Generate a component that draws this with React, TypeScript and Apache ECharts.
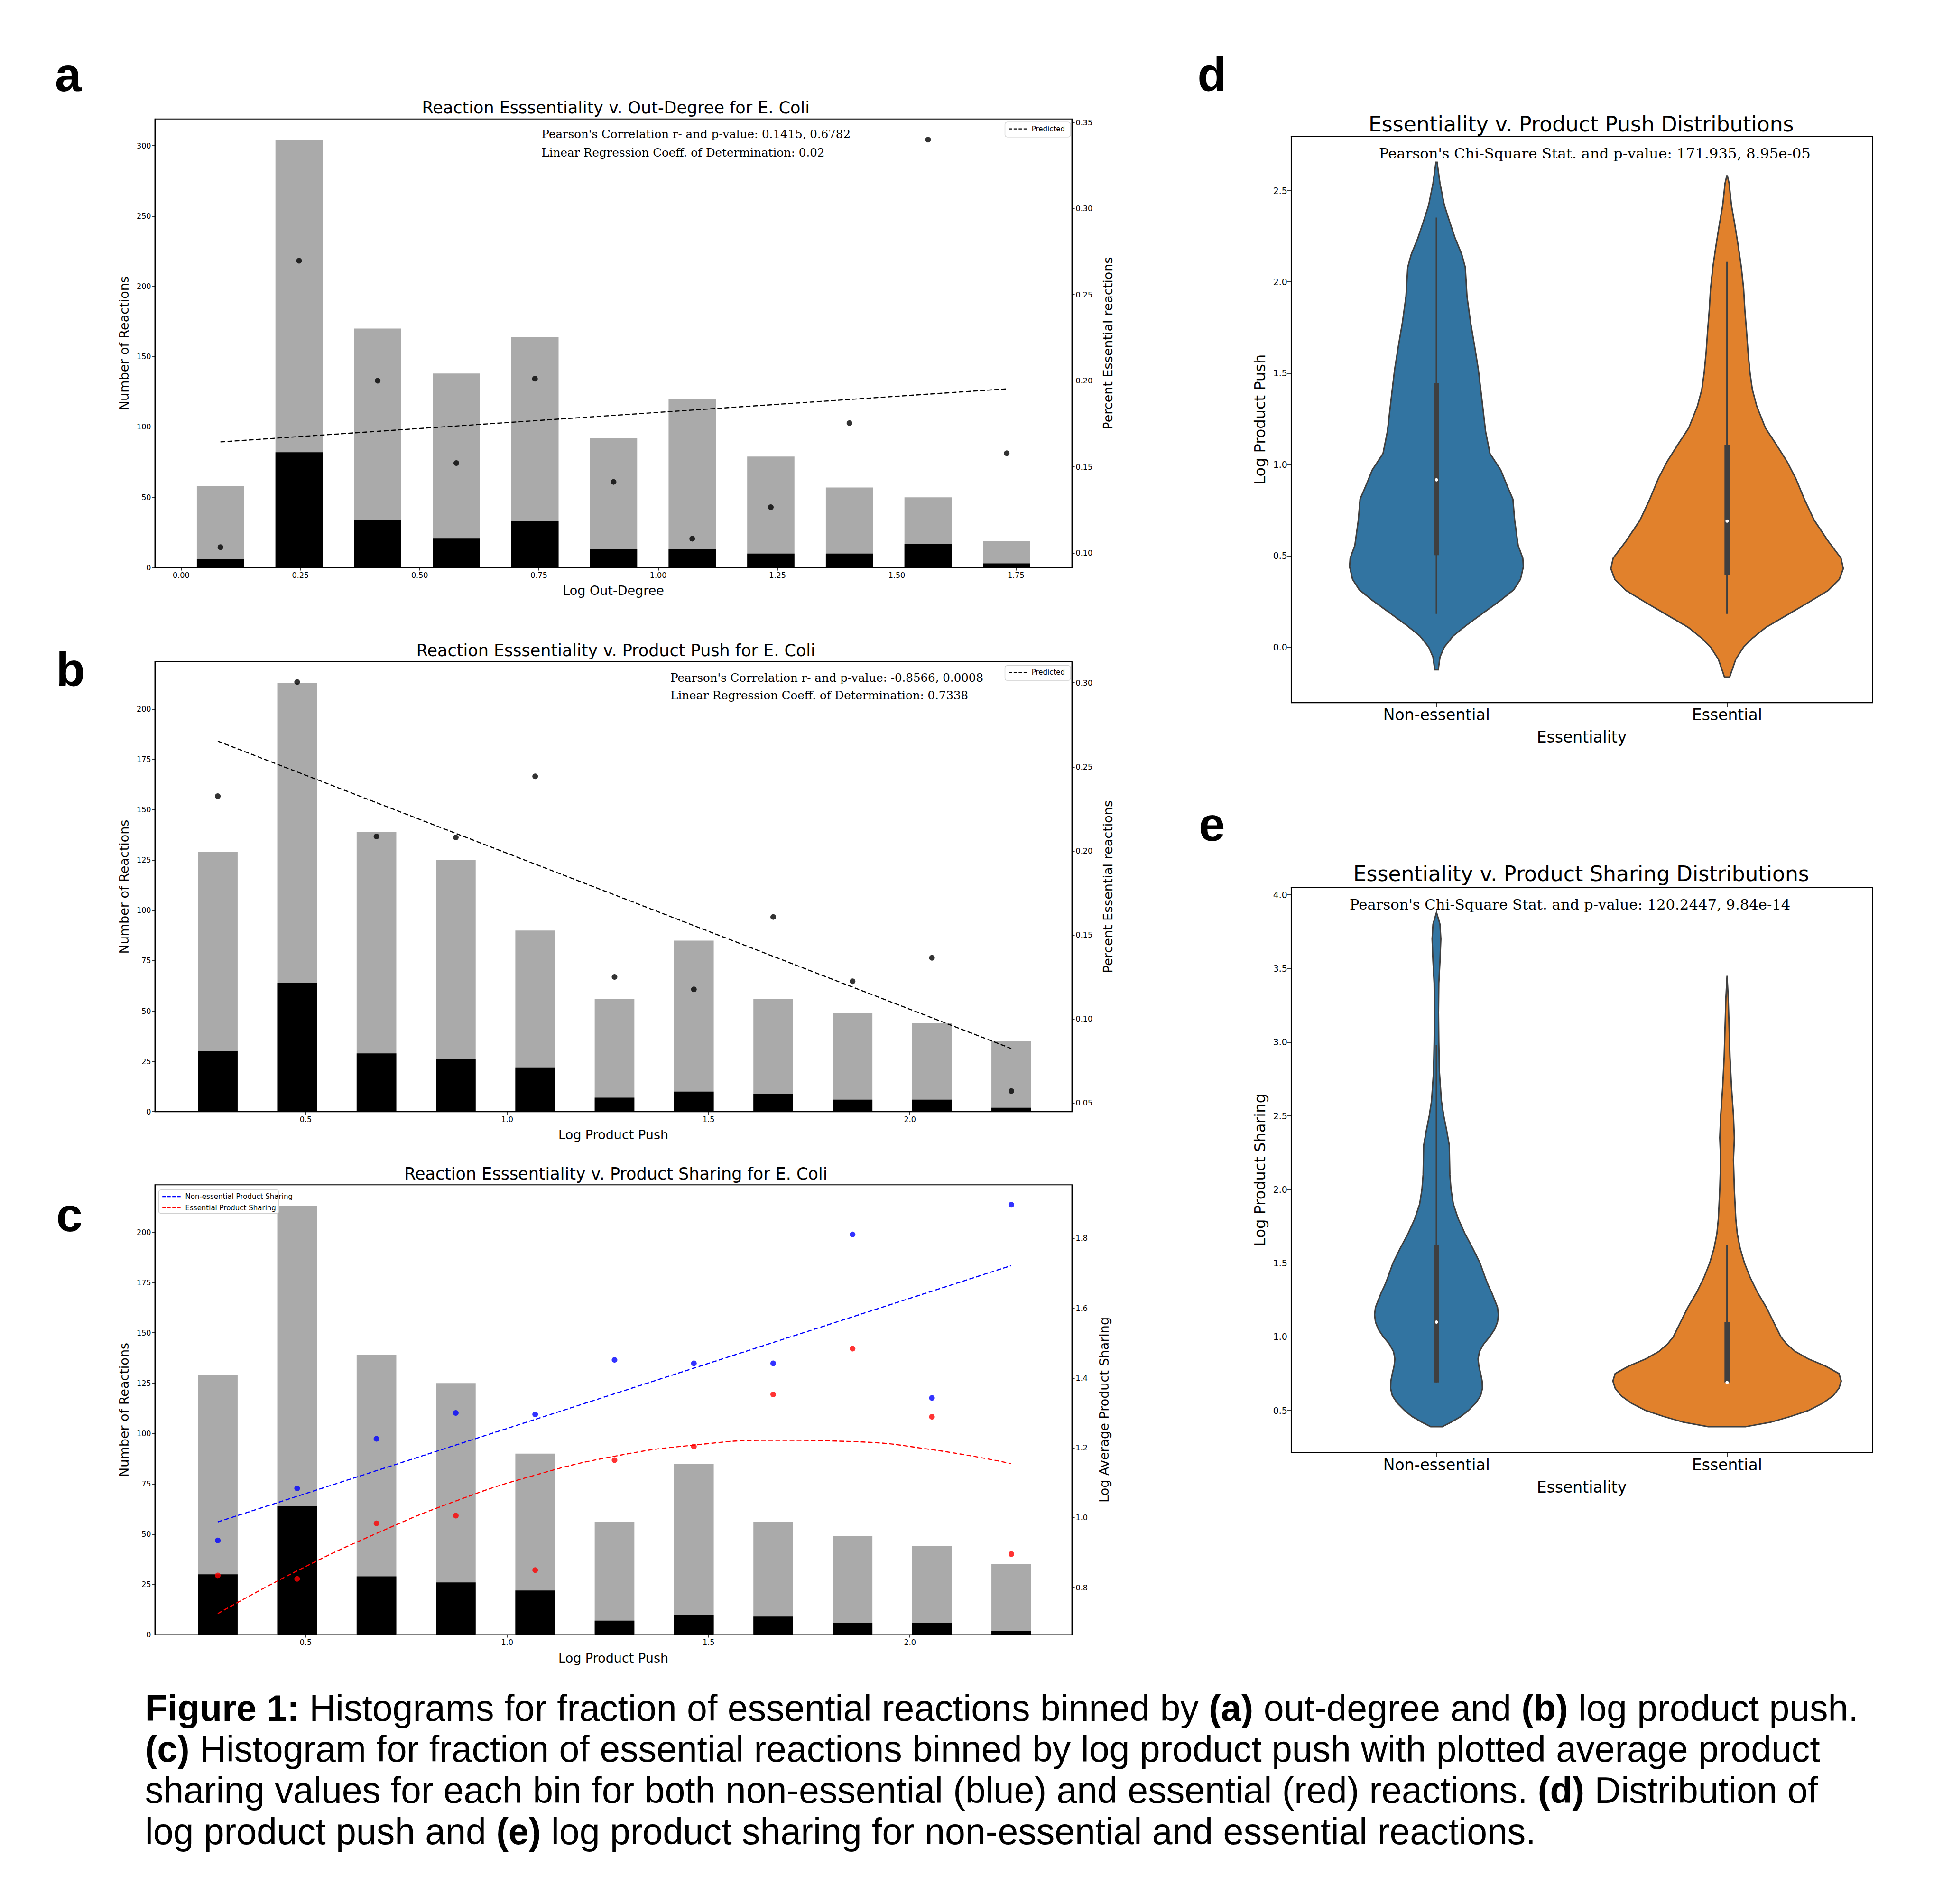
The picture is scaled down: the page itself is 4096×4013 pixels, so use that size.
import React, { useEffect, useRef } from "react";
import * as echarts from "echarts";

const K = 4096 / 1568;
const S = (v: number) => v * K;

// ---------- Panel a ----------
const aBinCenters = [0.0824, 0.2472, 0.412, 0.5768, 0.7416, 0.9064, 1.0712, 1.236, 1.4008, 1.5656, 1.7304];
const aTotal = [58, 304, 170, 138, 164, 92, 120, 79, 57, 50, 19];
const aEssential = [6, 82, 34, 21, 33, 13, 13, 10, 10, 17, 3];
const aFraction = [0.1034, 0.2697, 0.2, 0.1522, 0.2012, 0.1413, 0.1083, 0.1266, 0.1754, 0.34, 0.1579];
const aPredicted = [[0.0824, 0.1645], [1.7304, 0.1953]];
const aXTicks = [0, 0.25, 0.5, 0.75, 1.0, 1.25, 1.5, 1.75];
const aYTicks = [0, 50, 100, 150, 200, 250, 300];
const aRTicks = [0.1, 0.15, 0.2, 0.25, 0.3, 0.35];

// ---------- Panels b / c ----------
const bBinCenters = [0.2816, 0.4786, 0.6756, 0.8726, 1.0696, 1.2666, 1.4636, 1.6606, 1.8576, 2.0546, 2.2516];
const bTotal = [129, 213, 139, 125, 90, 56, 85, 56, 49, 44, 35];
const bEssential = [30, 64, 29, 26, 22, 7, 10, 9, 6, 6, 2];
const bFraction = [0.2326, 0.3005, 0.2086, 0.208, 0.2444, 0.125, 0.1176, 0.1607, 0.1224, 0.1364, 0.0571];
const bPredicted = [[0.2816, 0.2653], [2.2516, 0.0824]];
const bXTicks = [0.5, 1.0, 1.5, 2.0];
const bYTicks = [0, 25, 50, 75, 100, 125, 150, 175, 200];
const bRTicks = [0.05, 0.1, 0.15, 0.2, 0.25, 0.3];

const cNonEssSharing = [0.935, 1.084, 1.226, 1.3, 1.296, 1.452, 1.442, 1.442, 1.811, 1.343, 1.896];
const cEssSharing = [0.835, 0.825, 0.984, 1.006, 0.85, 1.165, 1.204, 1.353, 1.484, 1.289, 0.896];
const cNonEssFit = [[0.2816, 0.988], [2.2516, 1.722]];
const cEssFit = [[0.2816, 0.7255], [0.4786, 0.848], [0.6756, 0.955], [0.8726, 1.048], [1.0696, 1.122], [1.2666, 1.176], [1.4636, 1.208], [1.6606, 1.222], [1.8576, 1.218], [2.0546, 1.195], [2.2516, 1.155]];
const cRTicks = [0.8, 1.0, 1.2, 1.4, 1.6, 1.8];

// ---------- Panels d / e (violins) ----------
const violinCats = ["Non-essential", "Essential"];
const dNonEssOutline = [[-0.125, 0.006], [-0.055, 0.012], [0.0, 0.027], [0.06, 0.057], [0.118, 0.102], [0.187, 0.161], [0.256, 0.221], [0.314, 0.266], [0.371, 0.289], [0.44, 0.299], [0.487, 0.297], [0.556, 0.281], [0.694, 0.269], [0.81, 0.263], [0.88, 0.244], [0.97, 0.221], [1.06, 0.184], [1.18, 0.169], [1.386, 0.154], [1.52, 0.144], [1.64, 0.132], [1.78, 0.117], [1.92, 0.105], [2.08, 0.099], [2.15, 0.087], [2.24, 0.064], [2.33, 0.045], [2.42, 0.027], [2.54, 0.012], [2.655, 0.002]];
const dEssOutline = [[-0.164, 0.009], [-0.136, 0.015], [-0.067, 0.03], [0.0, 0.057], [0.048, 0.087], [0.106, 0.132], [0.175, 0.206], [0.245, 0.281], [0.31, 0.348], [0.37, 0.386], [0.43, 0.4], [0.487, 0.392], [0.58, 0.348], [0.694, 0.3], [0.81, 0.266], [0.925, 0.236], [1.017, 0.206], [1.11, 0.169], [1.2, 0.132], [1.32, 0.102], [1.41, 0.087], [1.5, 0.079], [1.617, 0.072], [1.73, 0.067], [1.85, 0.061], [1.96, 0.057], [2.08, 0.049], [2.19, 0.039], [2.31, 0.027], [2.42, 0.015], [2.54, 0.007], [2.58, 0.001]];
// [q1, q3, median, whiskerLow, whiskerHigh]
const dBoxes = [[0.503, 1.444, 0.916, 0.182, 2.352], [0.395, 1.108, 0.69, 0.182, 2.11]];
const dYTicks = [0.0, 0.5, 1.0, 1.5, 2.0, 2.5];

const eNonEssOutline = [[0.39, 0.02], [0.42, 0.05], [0.46, 0.085], [0.5, 0.11], [0.55, 0.135], [0.6, 0.152], [0.65, 0.158], [0.7, 0.157], [0.75, 0.152], [0.8, 0.146], [0.85, 0.143], [0.9, 0.148], [0.95, 0.162], [1.0, 0.183], [1.05, 0.2], [1.1, 0.21], [1.15, 0.213], [1.2, 0.21], [1.25, 0.2], [1.3, 0.19], [1.35, 0.178], [1.4, 0.168], [1.5, 0.15], [1.6, 0.125], [1.7, 0.098], [1.8, 0.075], [1.9, 0.058], [2.0, 0.05], [2.1, 0.046], [2.2, 0.045], [2.3, 0.044], [2.4, 0.035], [2.5, 0.025], [2.6, 0.017], [2.8, 0.01], [3.0, 0.008], [3.2, 0.007], [3.4, 0.008], [3.55, 0.012], [3.7, 0.015], [3.8, 0.012], [3.88, 0.0]];
const eEssOutline = [[0.39, 0.065], [0.42, 0.15], [0.46, 0.22], [0.5, 0.28], [0.55, 0.33], [0.6, 0.365], [0.65, 0.385], [0.7, 0.393], [0.75, 0.385], [0.8, 0.34], [0.85, 0.28], [0.9, 0.235], [0.95, 0.205], [1.0, 0.185], [1.1, 0.16], [1.2, 0.135], [1.3, 0.105], [1.4, 0.08], [1.5, 0.06], [1.6, 0.045], [1.7, 0.035], [1.8, 0.03], [2.0, 0.025], [2.2, 0.022], [2.35, 0.025], [2.5, 0.022], [2.7, 0.015], [2.9, 0.01], [3.1, 0.007], [3.3, 0.004], [3.45, 0.0]];
const eBoxes = [[0.69, 1.62, 1.1, 0.69, 2.98], [0.69, 1.1, 0.69, 0.69, 1.62]];
const eYTicks = [0.5, 1.0, 1.5, 2.0, 2.5, 3.0, 3.5, 4.0];

const captionLines = [
  "{b|Figure 1:} Histograms for fraction of essential reactions binned by {b|(a)} out-degree and {b|(b)} log product push.",
  "{b|(c)} Histogram for fraction of essential reactions binned by log product push with plotted average product",
  "sharing values for each bin for both non-essential (blue) and essential (red) reactions. {b|(d)} Distribution of",
  "log product push and {b|(e)} log product sharing for non-essential and essential reactions.",
];

// ---------- styling ----------
const SANS = "DejaVu Sans";
const SERIF = "DejaVu Serif";
const GRAY = "#aaaaaa";
const VIOLIN_COLORS = ["#3274a1", "#e1812c"];
const EDGE = "#3f3f3f";
const CAP_FS = 77;

const fmt = (d: number) => (v: number) => v.toFixed(d);

const axis = (o: any) => ({
  type: "value",
  gridIndex: o.grid,
  min: o.min,
  max: o.max,
  position: o.position,
  z: 5,
  splitLine: { show: false },
  axisLine: { show: true, onZero: false, lineStyle: { color: "#000", width: 2 } },
  axisTick: { show: true, customValues: o.ticks, length: o.tickLen ?? 6, lineStyle: { color: "#000", width: 1.6 } },
  axisLabel: {
    show: true,
    customValues: o.ticks,
    formatter: o.fmt,
    fontSize: o.fs,
    fontFamily: SANS,
    color: "#000",
    margin: o.margin ?? 8,
  },
  name: o.name,
  nameLocation: "middle",
  nameGap: o.nameGap,
  nameTextStyle: { fontSize: o.nfs, fontFamily: SANS, color: "#000" },
});

const barSeries = (xi: number, yi: number, centers: number[], heights: number[], color: string, bw: number) => ({
  type: "custom",
  xAxisIndex: xi,
  yAxisIndex: yi,
  z: 2,
  data: centers.map((c, i) => [c, heights[i]]),
  renderItem: (_p: any, api: any) => {
    const x = api.value(0);
    const h = api.value(1);
    const a = api.coord([x - bw / 2, h]);
    const b = api.coord([x + bw / 2, 0]);
    return { type: "rect", shape: { x: a[0], y: a[1], width: b[0] - a[0], height: b[1] - a[1] }, style: { fill: color } };
  },
});

const dots = (xi: number, yi: number, centers: number[], vals: number[], color: string) => ({
  type: "scatter",
  xAxisIndex: xi,
  yAxisIndex: yi,
  z: 4,
  symbolSize: 12,
  itemStyle: { color },
  data: centers.map((c, i) => [c, vals[i]]),
});

const dashed = (xi: number, yi: number, pts: number[][], color: string, smooth = false) => ({
  type: "line",
  xAxisIndex: xi,
  yAxisIndex: yi,
  z: 3,
  smooth,
  symbol: "none",
  showSymbol: false,
  lineStyle: { color, width: 2.4, type: [10, 5] },
  data: pts,
});

const violinSeries = (xi: number, yi: number, outlines: number[][][], boxes: number[][]) => ({
  type: "custom",
  xAxisIndex: xi,
  yAxisIndex: yi,
  z: 2,
  data: outlines.map((_o, i) => [i, boxes[i][2]]),
  renderItem: (p: any, api: any) => {
    const i = p.dataIndex;
    const cat = api.value(0);
    const ol = outlines[i];
    const right = ol.map(([v, w]) => api.coord([cat + w, v]));
    const left = ol.slice().reverse().map(([v, w]) => api.coord([cat - w, v]));
    const [q1, q3, med, lo, hi] = boxes[i];
    const c = (v: number) => api.coord([cat, v]);
    const pLo = c(lo), pHi = c(hi), pQ1 = c(q1), pQ3 = c(q3), pMed = c(med);
    return {
      type: "group",
      children: [
        { type: "polygon", shape: { points: right.concat(left) }, style: { fill: VIOLIN_COLORS[i], stroke: EDGE, lineWidth: 3 } },
        { type: "line", shape: { x1: pLo[0], y1: pLo[1], x2: pHi[0], y2: pHi[1] }, style: { stroke: EDGE, lineWidth: 3.5 } },
        { type: "line", shape: { x1: pQ1[0], y1: pQ1[1], x2: pQ3[0], y2: pQ3[1] }, style: { stroke: EDGE, lineWidth: 11 } },
        { type: "circle", shape: { cx: pMed[0], cy: pMed[1], r: 3.5 }, style: { fill: "#fff" } },
      ],
    };
  },
});

const txt = (x: number, y: number, text: string, fs: number, o: any = {}) => ({
  type: "text",
  x: S(x),
  y: S(y),
  z: 100,
  style: {
    text,
    fontSize: fs,
    fontFamily: o.ff ?? SANS,
    fontWeight: o.fw ?? "normal",
    fill: "#000",
    align: o.align ?? "center",
    verticalAlign: "middle",
    rich: o.rich,
  },
});

const legend = (x: number, y: number, w: number, h: number, items: { label: string; color: string }[], rowH: number, fs: number) => {
  const children: any[] = [
    { type: "rect", shape: { x: S(x), y: S(y), width: S(w), height: S(h), r: 5 }, style: { fill: "rgba(255,255,255,0.8)", stroke: "#d0d0d0", lineWidth: 1.5 }, z: 99 },
  ];
  items.forEach((it, i) => {
    const cy = S(y + 5.5 + i * rowH);
    children.push({ type: "line", shape: { x1: S(x + 3), y1: cy, x2: S(x + 18), y2: cy }, style: { stroke: it.color, lineWidth: 2.4, lineDash: [7, 3.5] }, z: 100 });
    children.push({ type: "text", x: S(x + 21.5), y: cy, z: 100, style: { text: it.label, fontSize: fs, fontFamily: SANS, fill: "#000", align: "left", verticalAlign: "middle" } });
  });
  return children;
};

function buildOption(): any {
  const grids = [
    { left: S(125), top: S(96), width: S(740), height: S(362) },
    { left: S(125), top: S(534), width: S(740), height: S(363) },
    { left: S(125), top: S(956), width: S(740), height: S(363) },
    { left: S(1042), top: S(110), width: S(469), height: S(457) },
    { left: S(1042), top: S(716), width: S(469), height: S(456) },
  ].map((g) => ({ ...g, show: true, borderColor: "#000", borderWidth: 2, backgroundColor: "transparent", containLabel: false }));

  const TF = 16; // tick font a-c
  const NF = 27; // axis name font a-c
  const xAxes = [
    axis({ grid: 0, min: -0.055, max: 1.867, ticks: aXTicks, fmt: fmt(2), fs: TF, name: "Log Out-Degree", nameGap: 35, nfs: NF }),
    axis({ grid: 1, min: 0.1255, max: 2.402, ticks: bXTicks, fmt: fmt(1), fs: TF, name: "Log Product Push", nameGap: 35, nfs: NF }),
    axis({ grid: 2, min: 0.1255, max: 2.402, ticks: bXTicks, fmt: fmt(1), fs: TF, name: "Log Product Push", nameGap: 35, nfs: NF }),
    axis({ grid: 3, min: -0.5, max: 1.5, ticks: [0, 1], fmt: (v: number) => violinCats[Math.round(v)], fs: 33, name: "Essentiality", nameGap: 56, nfs: 33, tickLen: 9, margin: 9 }),
    axis({ grid: 4, min: -0.5, max: 1.5, ticks: [0, 1], fmt: (v: number) => violinCats[Math.round(v)], fs: 33, name: "Essentiality", nameGap: 56, nfs: 33, tickLen: 9, margin: 9 }),
  ];
  const yAxes = [
    axis({ grid: 0, min: 0, max: 319, ticks: aYTicks, fmt: fmt(0), fs: TF, position: "left", name: "Number of Reactions", nameGap: 52, nfs: NF }),
    axis({ grid: 0, min: 0.0915, max: 0.352, ticks: aRTicks, fmt: fmt(2), fs: TF, position: "right", name: "Percent Essential reactions", nameGap: 62, nfs: NF }),
    axis({ grid: 1, min: 0, max: 223.5, ticks: bYTicks, fmt: fmt(0), fs: TF, position: "left", name: "Number of Reactions", nameGap: 52, nfs: NF }),
    axis({ grid: 1, min: 0.0448, max: 0.3125, ticks: bRTicks, fmt: fmt(2), fs: TF, position: "right", name: "Percent Essential reactions", nameGap: 62, nfs: NF }),
    axis({ grid: 2, min: 0, max: 223.5, ticks: bYTicks, fmt: fmt(0), fs: TF, position: "left", name: "Number of Reactions", nameGap: 52, nfs: NF }),
    axis({ grid: 2, min: 0.665, max: 1.953, ticks: cRTicks, fmt: fmt(1), fs: TF, position: "right", name: "Log Average Product Sharing", nameGap: 54, nfs: NF }),
    axis({ grid: 3, min: -0.305, max: 2.797, ticks: dYTicks, fmt: fmt(1), fs: 19, position: "left", name: "Log Product Push", nameGap: 50, nfs: 32, tickLen: 9 }),
    axis({ grid: 4, min: 0.214, max: 4.05, ticks: eYTicks, fmt: fmt(1), fs: 19, position: "left", name: "Log Product Sharing", nameGap: 50, nfs: 32, tickLen: 9 }),
  ];

  const series: any[] = [
    barSeries(0, 0, aBinCenters, aTotal, GRAY, 0.099),
    barSeries(0, 0, aBinCenters, aEssential, "#000", 0.099),
    dots(0, 1, aBinCenters, aFraction, "#000"),
    dashed(0, 1, aPredicted, "#000"),

    barSeries(1, 2, bBinCenters, bTotal, GRAY, 0.0985),
    barSeries(1, 2, bBinCenters, bEssential, "#000", 0.0985),
    dots(1, 3, bBinCenters, bFraction, "#000"),
    dashed(1, 3, bPredicted, "#000"),

    barSeries(2, 4, bBinCenters, bTotal, GRAY, 0.0985),
    barSeries(2, 4, bBinCenters, bEssential, "#000", 0.0985),
    dots(2, 5, bBinCenters, cNonEssSharing, "#0000ff"),
    dots(2, 5, bBinCenters, cEssSharing, "#ff0000"),
    dashed(2, 5, cNonEssFit, "#0000ff"),
    dashed(2, 5, cEssFit, "#ff0000", true),

    violinSeries(3, 6, [dNonEssOutline, dEssOutline], dBoxes),
    violinSeries(4, 7, [eNonEssOutline, eEssOutline], eBoxes),
  ];

  const capRich = { b: { fontWeight: "bold", fontSize: CAP_FS, fontFamily: "Liberation Sans", fill: "#000" } };

  const graphic: any[] = [
    // panel letters
    txt(55, 60, "a", 100, { fw: "bold", ff: "Liberation Sans" }),
    txt(57, 540, "b", 100, { fw: "bold", ff: "Liberation Sans" }),
    txt(56, 980, "c", 100, { fw: "bold", ff: "Liberation Sans" }),
    txt(978, 60, "d", 100, { fw: "bold", ff: "Liberation Sans" }),
    txt(978, 665, "e", 100, { fw: "bold", ff: "Liberation Sans" }),
    // titles
    txt(497, 87, "Reaction Esssentiality v. Out-Degree for E. Coli", 35),
    txt(497, 525, "Reaction Esssentiality v. Product Push for E. Coli", 35),
    txt(497, 947, "Reaction Esssentiality v. Product Sharing for E. Coli", 35),
    txt(1276, 100, "Essentiality v. Product Push Distributions", 44),
    txt(1276, 705, "Essentiality v. Product Sharing Distributions", 44),
    // annotations
    txt(437, 108, "Pearson's Correlation r- and p-value: 0.1415, 0.6782", 24.5, { ff: SERIF, align: "left" }),
    txt(437, 123, "Linear Regression Coeff. of Determination: 0.02", 24.5, { ff: SERIF, align: "left" }),
    txt(541, 547, "Pearson's Correlation r- and p-value: -0.8566, 0.0008", 24.5, { ff: SERIF, align: "left" }),
    txt(541, 561, "Linear Regression Coeff. of Determination: 0.7338", 24.5, { ff: SERIF, align: "left" }),
    txt(1287, 124, "Pearson's Chi-Square Stat. and p-value: 171.935, 8.95e-05", 30.7, { ff: SERIF }),
    txt(1267, 730, "Pearson's Chi-Square Stat. and p-value: 120.2447, 9.84e-14", 30.7, { ff: SERIF }),
    // legends
    ...legend(811, 98.5, 53, 12, [{ label: "Predicted", color: "#000" }], 9, 15),
    ...legend(811, 537, 53, 12, [{ label: "Predicted", color: "#000" }], 9, 15),
    ...legend(128, 960, 97, 19, [
      { label: "Non-essential Product Sharing", color: "#0000ff" },
      { label: "Essential Product Sharing", color: "#ff0000" },
    ], 9, 15),
    // caption
    ...captionLines.map((line, i) =>
      txt(117, 1378 + i * 33.2, line, CAP_FS, { ff: "Liberation Sans", align: "left", rich: capRich })
    ),
  ];

  return {
    animation: false,
    backgroundColor: "#fff",
    grid: grids,
    xAxis: xAxes,
    yAxis: yAxes,
    series,
    graphic,
  };
}

export default function App() {
  const ref = useRef<HTMLDivElement>(null);
  useEffect(() => {
    const chart = echarts.init(ref.current!, null, { renderer: "svg" });
    chart.setOption(buildOption());
    return () => chart.dispose();
  }, []);
  return (
    <div
      ref={ref}
      style={{ position: "absolute", left: 0, top: 0, width: 4096, height: 4013, background: "#fff" }}
    />
  );
}
